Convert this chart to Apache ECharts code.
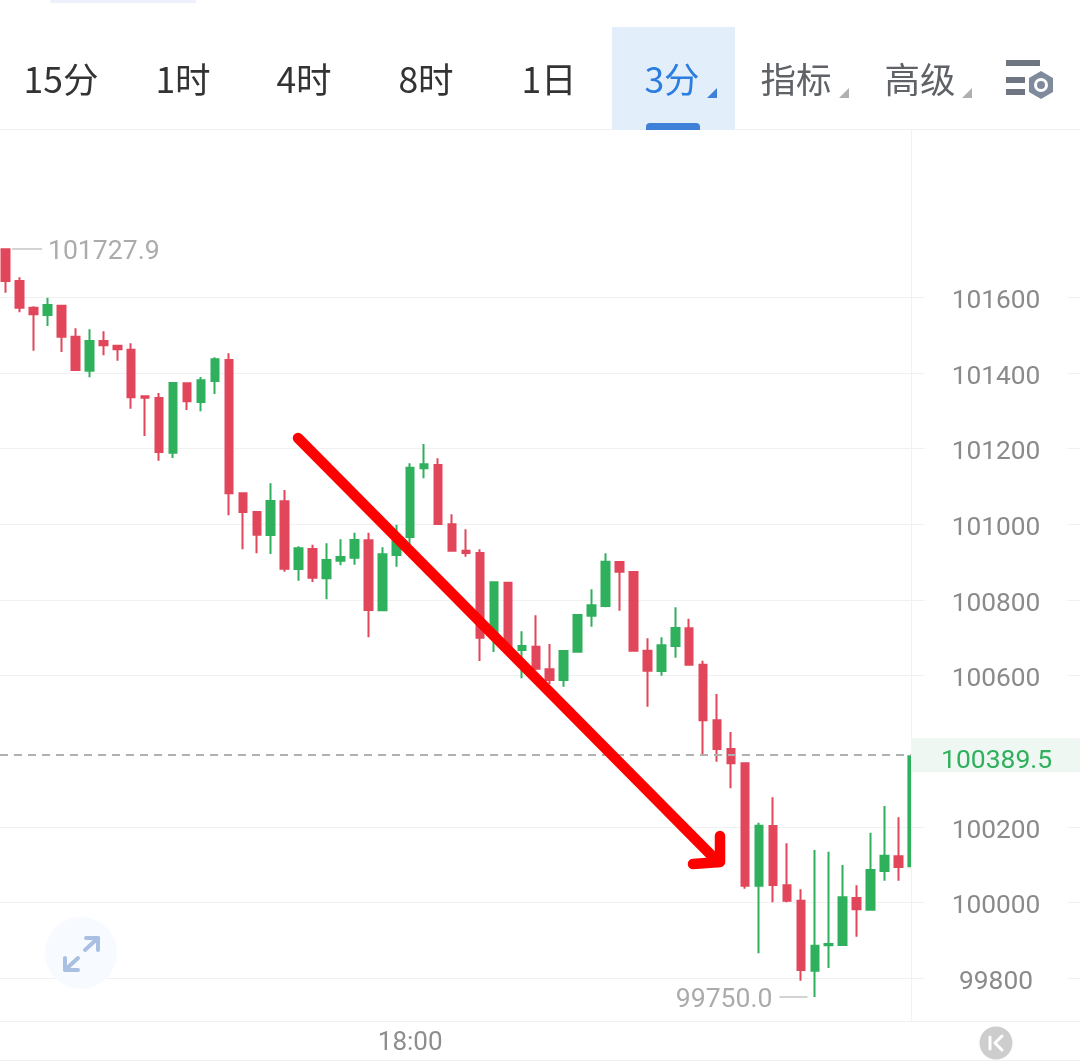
<!DOCTYPE html>
<html><head><meta charset="utf-8">
<style>html,body{margin:0;padding:0;background:#fff}#c{width:1080px;height:1061px}</style>
<script src="https://cdn.jsdelivr.net/npm/echarts@6/dist/echarts.min.js"></script>
</head><body><div id="c"></div>
<script>
const times=['16:33','16:36','16:39','16:42','16:45','16:48','16:51','16:54','16:57','17:00','17:03','17:06','17:09','17:12','17:15','17:18','17:21','17:24','17:27','17:30','17:33','17:36','17:39','17:42','17:45','17:48','17:51','17:54','17:57','18:00','18:03','18:06','18:09','18:12','18:15','18:18','18:21','18:24','18:27','18:30','18:33','18:36','18:39','18:42','18:45','18:48','18:51','18:54','18:57','19:00','19:03','19:06','19:09','19:12','19:15','19:18','19:21','19:24','19:27','19:30','19:33','19:36','19:39','19:42','19:45','19:48'];
const opens=[101727,101643,101572,101553,101577.6,101495.6,101405.8,101484.3,101471.8,101461.3,101338.1,101333.6,101189,101372.4,101323,101378.5,101434,101081.7,101032.3,100971.4,101060.5,100881.6,100934.4,100857,100903.5,100911.5,100957.4,100772.4,100918.6,100966.2,101147.8,101156.5,100999.7,100930,100923.9,100712.4,100845.4,100667.5,100676.2,100616.5,100588.2,100663,100758.1,100783.8,100900.1,100873.7,100665.6,100611.9,100678,100724.8,100628.6,100481.6,100405.8,100368,100044.4,100202.2,100045.5,100004.8,99819.7,99886.9,99887.7,100011.9,99981,100083.3,100122.1,100093];
const closes=[101643,101572.3,101554.9,101579.4,101495.6,101407.6,101484.3,101472.9,101462.3,101335.4,101334.4,101190.9,101373.2,101324.9,101380.4,101435.9,101081.7,101032.3,100972.2,101061.3,100882.4,100936.3,100858.6,100905.4,100913.3,100958.2,100773.2,100920.4,100966.2,101149.4,101158.4,101000.5,100930,100923.9,100700,100846.4,100676.2,100678,100618,100588.2,100664.8,100760,100785.6,100900.9,100874.4,100665.6,100612.7,100679.9,100725.6,100628.6,100481.6,100405.8,100368,100044.4,100203,100046.3,100004.8,99821.6,99885.8,99890.3,100013.7,99982,100085.9,100123.7,100093.8,100389.5];
const lows=[101612,101560.1,101458.6,101523.9,101455.2,101407.2,101388.3,101446.5,101432.2,101305.3,101233.1,101167.9,101175,101301.9,101298.5,101344.2,101023.5,100933.6,100923.1,100921.2,100874.4,100850.7,100847.2,100801.5,100891.4,100892.9,100701,100772,100887.7,100945,101121.3,101000,100930,100914.1,100638.4,100662.2,100667.5,100592.6,100614.6,100577.6,100570.4,100663,100729,100780.3,100771.4,100665,100517.6,100599.5,100647.1,100628,100389.9,100372.2,100301.9,100036.5,99865.7,100000.5,100000.5,99793.3,99750,99826.9,99887.7,99909.6,99981,100057.6,100057.6,100093];
const highs=[101727.9,101652.7,101576,101598.7,101577.6,101517.8,101515.2,101509.9,101473,101478.2,101339.7,101346.8,101373.2,101372.4,101389.1,101441.2,101451.8,101081.7,101032.3,101108.1,101090.4,100941.6,100945.8,100949.5,100960.1,100977.5,100977.5,100939,100998.7,101161,101212,101174.2,101026.2,100986.5,100933.6,100846.4,100845.4,100716.9,100759.2,100683.3,100664.8,100760,100827.9,100923.1,100900.1,100873.7,100698.4,100701,100780.3,100750.2,100639.2,100551.2,100450.7,100368,100210.9,100278.1,100156.5,100034.9,100138.8,100134.3,100099.1,100045.5,100184.5,100255.1,100225.2,100389.5];
const yTicks=[99800,100000,100200,100600,100800,101000,101200,101400,101600];
const xTicks=[29];
const tabs=['15分','1时','4时','8时','1日'];
const highest=101727.9, lowest=99750.0, last=100389.5;

const GREEN='#2fb05c', RED='#e2465b', FONT='Roboto,"Noto Sans CJK SC",sans-serif', CJK='"Noto Sans CJK SC",Roboto,sans-serif';
const candles=opens.map((o,i)=>[i,o,closes[i],lows[i],highs[i]]);
const yRange={min:99686.8,max:102042};
const txt=(t,x,y,fill,align)=>({type:'text',z:50,style:{text:t,x,y,fill,font:'35.5px '+CJK,align:align||'center',verticalAlign:'middle'}});
const rect=(x,y,w,h,fill,r)=>({type:'rect',z:40,shape:{x,y,width:w,height:h,r:r||0},style:{fill}});
const poly=(pts,stroke,lw)=>({type:'polyline',z:60,shape:{points:pts},style:{stroke,lineWidth:lw,fill:null,lineCap:'round',lineJoin:'round'}});
const tri=(x,y,fill)=>({type:'polygon',z:50,shape:{points:[[x+10,y],[x+10,y+10],[x,y+10]]},style:{fill}});
const richT=(color,size,pad)=>({t:{color,fontSize:size,fontFamily:FONT,padding:[pad,0,0,0]}});

const tabX=[61,183,304,426,549];
const graphic=[
 rect(50,0,146,3,'#eef0fb',2),
 rect(0,129,1080,1,'#f0f1f3'),
 rect(612,27,123,103,'#e3eefb'),
 rect(646,123,54,7,'#3f80d8',[4,4,0,0]),
 ...tabs.map((t,i)=>txt(t,tabX[i],79.5,'#333')),
 txt('3分',672,79.5,'#2b7de0'),
 tri(707,88,'#3f80d8'),
 txt('指标',796,79.5,'#5f6368'),
 tri(839,88,'#b0b0b0'),
 txt('高级',920,79.5,'#5f6368'),
 tri(962,88,'#b0b0b0'),
 rect(1006,60,34,6,'#6f7681'),
 rect(1006,77,19,6,'#6f7681'),
 rect(1006,89,19,6,'#6f7681'),
 {type:'polygon',z:50,shape:{points:[[1041,71],[1053,78],[1053,92],[1041,99],[1029,92],[1029,78]]},style:{fill:'#7f8b9c'}},
 {type:'circle',z:51,shape:{cx:1041,cy:85,r:7},style:{fill:'#fff'}},
 {type:'circle',z:52,shape:{cx:1041,cy:85,r:4},style:{fill:'#7f8b9c'}},
 {type:'circle',z:50,shape:{cx:81,cy:953,r:36},style:{fill:'#f7fafe'}},
 poly([[86,938],[98,938],[98,950]],'#a9c0e2',4),
 poly([[98,938],[85,950]],'#a9c0e2',4),
 poly([[65,958],[65,970],[78,970]],'#a9c0e2',4),
 poly([[65,970],[78,958]],'#a9c0e2',4),
 {type:'circle',z:50,shape:{cx:996,cy:1043,r:16.5},style:{fill:'#cdcdcd'}},
 poly([[990,1037],[990,1049]],'#fff',3),
 poly([[1002,1036],[995,1043],[1002,1050]],'#fff',3),
 rect(0,1060,1080,1,'#f0f1f3'),
 poly([[298,438],[718,862]],'#ff0000',10.5),
 poly([[720,836],[720,862],[693,864]],'#ff0000',10.5)
];
const style={color:GREEN,color0:RED,borderColor:GREEN,borderColor0:RED,borderWidth:2,borderColorDoji:RED};
const option={
 animation:false,
 backgroundColor:'#fff',
 grid:[{left:0,width:911,top:130,height:891},{left:0,right:0,top:130,height:891}],
 xAxis:[
  {type:'value',gridIndex:0,min:-0.4086,max:64.9,position:'bottom',
   axisLine:{show:true,onZero:false,lineStyle:{color:'#f0f1f3',width:1}},axisTick:{show:false},splitLine:{show:false},
   axisLabel:{customValues:xTicks,formatter:v=>times[v],color:'#8e8e8e',fontSize:26,fontFamily:FONT,margin:9,showMinLabel:false,showMaxLabel:false}},
  {type:'value',gridIndex:1,min:0,max:1,show:true,position:'bottom',
   axisLine:{show:true,onZero:false,lineStyle:{color:'#f0f1f3',width:1}},axisTick:{show:false},axisLabel:{show:false},splitLine:{show:false}}
 ],
 yAxis:[
  {type:'value',gridIndex:0,position:'right',...yRange,
   axisLine:{show:true,onZero:false,lineStyle:{color:'#f0f1f3',width:1}},axisTick:{show:false},axisLabel:{show:false},splitLine:{show:false}},
  {type:'value',gridIndex:1,position:'right',...yRange,
   axisLine:{show:false},
   axisTick:{show:false,customValues:yTicks},
   splitLine:{show:true,lineStyle:{color:'#f1f1f2',width:1}},
   axisLabel:{customValues:yTicks,inside:true,margin:84,align:'center',width:143,height:36,backgroundColor:'#fff',formatter:v=>`{t|${v}}`,rich:richT('#8a8a8a',26.3,9)}}
 ],
 series:[{
  type:'candlestick',xAxisIndex:0,yAxisIndex:0,barWidth:8,clip:true,
  encode:{x:0,y:[1,2,3,4]},
  itemStyle:style,
  data:candles.slice(0,65),
  markLine:{silent:true,symbol:'none',animation:false,precision:1,
   data:[
    [{coord:[-0.4086,last],lineStyle:{color:'#b0b0b0',type:[8,6],width:2}},
     {coord:[64.9,last],label:{show:true,position:'end',distance:0,formatter:`{t|${last.toFixed(1)}}`,rich:richT(GREEN,26.5,10),backgroundColor:'#eef7f1',width:139,height:34,padding:[0,0,0,30],align:'left'}}],
    [{coord:[0.45,highest],lineStyle:{color:'#c4c4c4',type:'solid',width:1.5}},
     {coord:[2.6,highest],label:{show:true,position:'end',distance:6,formatter:`{t|${highest.toFixed(1)}}`,rich:richT('#ababab',26.6,8)}}],
    [{coord:[57.48,lowest],lineStyle:{color:'#c4c4c4',type:'solid',width:1.5}},
     {coord:[55.47,lowest],label:{show:true,position:'end',distance:7,formatter:`{t|${lowest.toFixed(1)}}`,rich:richT('#ababab',26.6,6)}}]
   ]}
 },{
  type:'custom',xAxisIndex:0,yAxisIndex:0,clip:true,z:2,
  encode:{x:0,y:[1,2,3,4]},
  data:candles.slice(65),
  renderItem:(params,api)=>{
   const top=api.coord([api.value(0),api.value(2)]), bot=api.coord([api.value(0),api.value(1)]);
   return {type:'rect',shape:{x:top[0]-5,y:top[1],width:10,height:bot[1]-top[1]},style:{fill:GREEN}};
  }
 }],
 graphic:{elements:graphic}
};
const chart=echarts.init(document.getElementById('c'),null,{renderer:'canvas'});
chart.setOption(option);
</script></body></html>
